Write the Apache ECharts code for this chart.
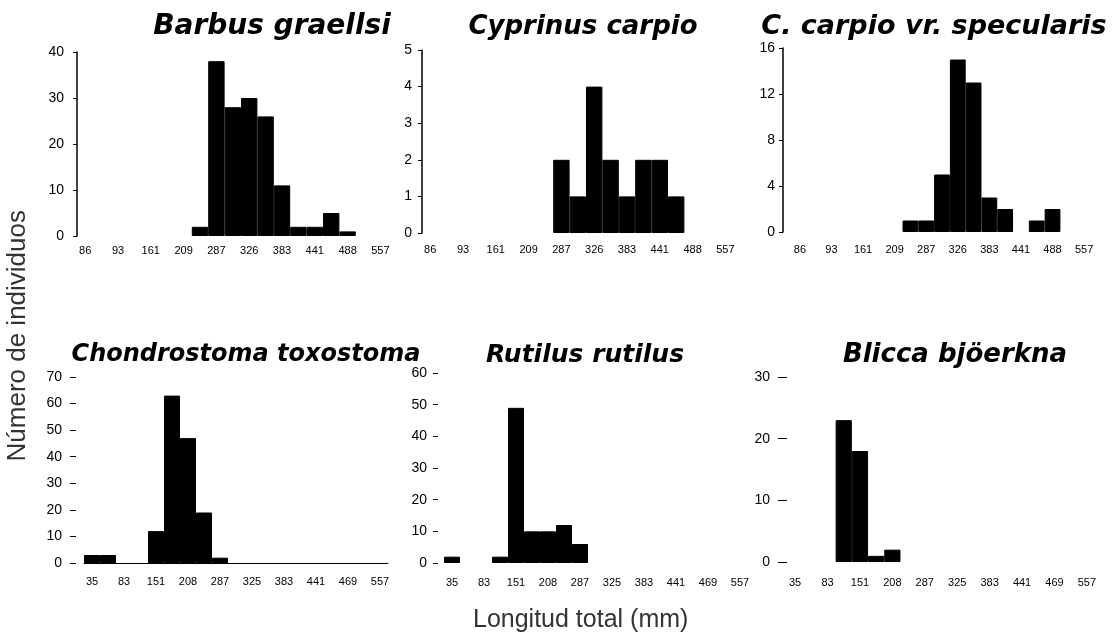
<!DOCTYPE html>
<html>
<head>
<meta charset="utf-8">
<script src="https://cdn.jsdelivr.net/npm/echarts@6/dist/echarts.min.js"></script>
<style>
  html, body { margin: 0; background: #fff; }
  #chart { width: 1113px; height: 640px; }
</style>
</head>
<body>
<div id="chart"></div>
<script>
// tick labels under each row of panels (one label every second bin)
const topTicks = ['86', '93', '161', '209', '287', '326', '383', '441', '488', '557'];
const bottomTicks = ['35', '83', '151', '208', '287', '325', '383', '441', '469', '557'];

// counts per length bin (19 bins)
const barbus      = [0, 0, 0, 0, 0, 0, 0, 2, 38, 28, 30, 26, 11, 2, 2, 5, 1, 0, 0];
const cyprinus    = [0, 0, 0, 0, 0, 0, 0, 0, 2, 1, 4, 2, 1, 2, 2, 1, 0, 0, 0];
const specularis  = [0, 0, 0, 0, 0, 0, 0, 1, 1, 5, 15, 13, 3, 2, 0, 1, 2, 0, 0];
const chondro     = [3, 3, 0, 0, 12, 63, 47, 19, 2, 0, 0, 0, 0, 0, 0, 0, 0, 0, 0];
const rutilus     = [2, 0, 0, 2, 49, 10, 10, 12, 6, 0, 0, 0, 0, 0, 0, 0, 0, 0, 0];
const blicca      = [0, 0, 0, 23, 18, 1, 2, 0, 0, 0, 0, 0, 0, 0, 0, 0, 0, 0, 0];

const species = ['Barbus graellsi', 'Cyprinus carpio', 'C. carpio vr. specularis',
                 'Chondrostoma toxostoma', 'Rutilus rutilus', 'Blicca bjöerkna'];

function binLabels(ticks, n) {
  const out = [];
  for (let i = 0; i < n; i++) out.push(i % 2 === 0 ? ticks[i / 2] : ' ' + i);
  return out;
}

// layout of the six panels
const panels = [
  { data: barbus, ticks: topTicks, max: 40, step: 10, grid: { left: 77, top: 52, width: 311.6, height: 184 },
    tx: 267, ty: 8, fs: 28, line: true, off: 0, tick: 4, lm: 13, xm: 9 },
  { data: cyprinus, ticks: topTicks, max: 5, step: 1, grid: { left: 422, top: 50, width: 311.6, height: 183 },
    tx: 578, ty: 9, fs: 26, line: true, off: 0, tick: 4, lm: 10, xm: 11 },
  { data: specularis, ticks: topTicks, max: 16, step: 4, grid: { left: 792, top: 48, width: 300, height: 184 },
    tx: 929, ty: 8, fs: 27, line: true, off: 9, tick: 4, lm: 8, xm: 12 },
  { data: chondro, ticks: bottomTicks, max: 70, step: 10, grid: { left: 84, top: 377, width: 304, height: 186 },
    tx: 241, ty: 338, fs: 24, line: false, off: 8, tick: 6, lm: 14, xm: 13, base: true },
  { data: rutilus, ticks: bottomTicks, max: 60, step: 10, grid: { left: 444, top: 373, width: 304, height: 190 },
    tx: 580, ty: 338, fs: 25, line: false, off: 6, tick: 5, lm: 11, xm: 14 },
  { data: blicca, ticks: bottomTicks, max: 30, step: 10, grid: { left: 787, top: 377, width: 308, height: 185 },
    tx: 950, ty: 337, fs: 26, line: false, off: 0, tick: 9, lm: 17, xm: 15 }
];

const labelFont = { color: '#000', fontFamily: 'Liberation Sans', fontSize: 11 };

let option = {
  animation: false,
  backgroundColor: '#fff',
  title: panels.map((p, i) => ({
    text: species[i],
    left: p.tx,
    top: p.ty,
    textAlign: 'center',
    textStyle: { fontFamily: 'DejaVu Sans', fontStyle: 'italic', fontWeight: 'bold', fontSize: p.fs, color: '#000' }
  })),
  grid: panels.map(p => p.grid),
  xAxis: panels.map((p, i) => ({
    type: 'category',
    gridIndex: i,
    data: binLabels(p.ticks, p.data.length),
    axisLine: { show: !!p.base, lineStyle: { color: '#000', width: 1 } },
    axisTick: { show: false },
    axisLabel: Object.assign({ interval: 0, margin: p.xm,
      formatter: v => (v.charAt(0) === ' ' ? '' : v) }, labelFont)
  })),
  yAxis: panels.map((p, i) => ({
    type: 'value',
    gridIndex: i,
    min: 0,
    max: p.max,
    interval: p.step,
    offset: p.off,
    splitLine: { show: false },
    axisLine: { show: p.line, lineStyle: { color: '#000', width: 1.5 } },
    axisTick: { show: true, length: p.tick, lineStyle: { color: '#000' } },
    axisLabel: { color: '#000', fontFamily: 'Liberation Sans', fontSize: 14, margin: p.lm }
  })),
  series: panels.map((p, i) => ({
    type: 'bar',
    xAxisIndex: i,
    yAxisIndex: i,
    // empty bins drawn as nothing, so the bar border does not leave a line
    data: p.data.map(v => (v === 0 ? '-' : v)),
    barCategoryGap: '0%',
    itemStyle: { color: '#000', borderColor: '#000', borderWidth: 1 }
  })),
  graphic: [
    { type: 'text', left: 5, top: 210, rotation: Math.PI / 2,
      style: { text: 'Número de individuos', fill: '#333', font: '26px "Liberation Sans"' } },
    { type: 'text', left: 473, top: 608,
      style: { text: 'Longitud total (mm)', fill: '#333', font: '25px "Liberation Sans"' } }
  ]
};

let myChart = echarts.init(document.getElementById('chart'));
myChart.setOption(option);
</script>
</body>
</html>
